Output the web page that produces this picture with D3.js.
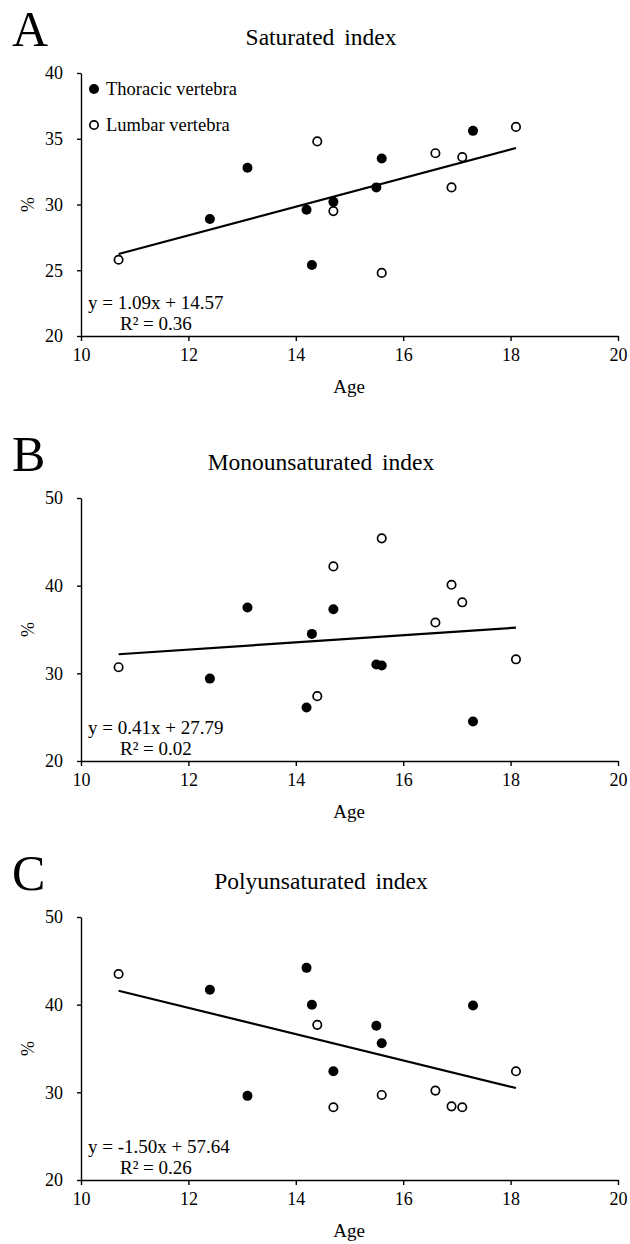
<!DOCTYPE html>
<html>
<head>
<meta charset="utf-8">
<script src="https://cdn.jsdelivr.net/npm/d3@7"></script>
<style>
  body { margin: 0; background: #fff; }
  svg text { font-family: "Liberation Serif", "Times New Roman", serif; fill: #000; }
</style>
</head>
<body>
<svg id="chart"></svg>
<script>
// ages of the two vertebra groups
const thoracicAge = [12.4, 13.1, 14.2, 14.3, 14.7, 15.5, 15.6, 17.3];
const lumbarAge = [10.7, 14.4, 14.7, 15.6, 16.6, 16.9, 17.1, 18.1];

// index values (%)
const satThoracic = [28.9, 32.8, 29.6, 25.4, 30.2, 31.3, 33.5, 35.6];
const satLumbar = [25.8, 34.8, 29.5, 24.8, 33.9, 31.3, 33.6, 35.9];
const monoThoracic = [29.4, 37.5, 26.1, 34.5, 37.3, 31.0, 30.9, 24.5];
const monoLumbar = [30.7, 27.4, 42.2, 45.4, 35.8, 40.1, 38.1, 31.6];
const polyThoracic = [41.7, 29.6, 44.2, 40.0, 32.4, 37.6, 35.6, 39.9];
const polyLumbar = [43.5, 37.7, 28.3, 29.7, 30.2, 28.4, 28.3, 32.4];

// regression lines
const slopes = [1.09, 0.41, -1.50];
const intercepts = [14.57, 27.79, 57.64];
const r2Labels = ["0.36", "0.02", "0.26"];

const panelLetters = ["A", "B", "C"];
const panelTitles = ["Saturated index", "Monounsaturated index", "Polyunsaturated index"];
const yDomains = [[20, 40], [20, 50], [20, 50]];
const yTicks = [[20, 25, 30, 35, 40], [20, 30, 40, 50], [20, 30, 40, 50]];
const xTicks = [10, 12, 14, 16, 18, 20];
const legendLabels = ["Thoracic vertebra", "Lumbar vertebra"];

const width = 630, height = 1244;
const svg = d3.select("#chart").attr("width", width).attr("height", height);

// vertical placement of each plot area (axis top / bottom)
const panelBox = [
    {top: 73, bottom: 336},
    {top: 498, bottom: 761},
    {top: 917, bottom: 1180}
];
const xLeft = 81, xRight = 618;

const series = [
    [satThoracic, satLumbar],
    [monoThoracic, monoLumbar],
    [polyThoracic, polyLumbar]
];

function drawPanel(i) {
    const box = panelBox[i];
    const g = svg.append("g");

    const xScale = d3.scaleLinear().domain([10, 20]).range([xLeft, xRight]);
    const yScale = d3.scaleLinear().domain(yDomains[i]).range([box.bottom, box.top]);

    // axes
    const yAxis = g.append("g")
        .attr("transform", `translate(${xLeft},0)`)
        .call(d3.axisLeft(yScale).tickValues(yTicks[i]).tickSize(4).tickSizeOuter(0).tickPadding(14));
    const xAxis = g.append("g")
        .attr("transform", `translate(0,${box.bottom})`)
        .call(d3.axisBottom(xScale).tickValues(xTicks).tickSize(5).tickSizeOuter(0).tickPadding(7.5));
    [yAxis, xAxis].forEach(ax => {
        ax.selectAll("text").attr("font-size", 18).attr("font-family", null);
        ax.select(".domain").attr("stroke", "#000").attr("stroke-width", 1.4);
        ax.selectAll(".tick line").attr("stroke", "#000").attr("stroke-width", 1.4);
    });

    // panel letter + title
    g.append("text")
        .attr("x", 12).attr("y", box.top - 27)
        .attr("font-size", 50)
        .text(panelLetters[i]);
    g.append("text")
        .attr("x", 321).attr("y", box.top - 28)
        .attr("text-anchor", "middle")
        .attr("font-size", 23.5)
        .style("word-spacing", "4px")
        .text(panelTitles[i]);

    // axis titles
    g.append("text")
        .attr("transform", `translate(34,${(box.top + box.bottom) / 2}) rotate(-90)`)
        .attr("text-anchor", "middle")
        .attr("font-size", 18)
        .text("%");
    g.append("text")
        .attr("x", 349).attr("y", box.bottom + 57)
        .attr("text-anchor", "middle")
        .attr("font-size", 19)
        .text("Age");

    // trend line
    const x0 = d3.min(lumbarAge.concat(thoracicAge));
    const x1 = d3.max(lumbarAge.concat(thoracicAge));
    const fit = x => slopes[i] * x + intercepts[i];
    g.append("line")
        .attr("x1", xScale(x0)).attr("y1", yScale(fit(x0)))
        .attr("x2", xScale(x1)).attr("y2", yScale(fit(x1)))
        .attr("stroke", "#000")
        .attr("stroke-width", 2.2);

    // points
    const [thor, lumb] = series[i];
    g.append("g").selectAll("circle")
        .data(thoracicAge.map((a, k) => ({age: a, val: thor[k]})))
        .join("circle")
        .attr("cx", d => xScale(d.age))
        .attr("cy", d => yScale(d.val))
        .attr("r", 5)
        .attr("fill", "#000");
    g.append("g").selectAll("circle")
        .data(lumbarAge.map((a, k) => ({age: a, val: lumb[k]})))
        .join("circle")
        .attr("cx", d => xScale(d.age))
        .attr("cy", d => yScale(d.val))
        .attr("r", 4.2)
        .attr("fill", "#fff")
        .attr("stroke", "#000")
        .attr("stroke-width", 1.7);

    // equation
    const sign = intercepts[i] >= 0 ? "+" : "-";
    g.append("text")
        .attr("x", 88).attr("y", box.bottom - 27.5)
        .attr("font-size", 19)
        .text(`y = ${slopes[i].toFixed(2)}x ${sign} ${Math.abs(intercepts[i]).toFixed(2)}`);
    g.append("text")
        .attr("x", 120).attr("y", box.bottom - 6.5)
        .attr("font-size", 19)
        .text(`R² = ${r2Labels[i]}`);

    // legend only in first panel
    if (i === 0) {
        const leg = g.append("g");
        legendLabels.forEach((lab, k) => {
            const cy = 89 + k * 36;
            leg.append("circle")
                .attr("cx", 94).attr("cy", cy)
                .attr("r", k === 0 ? 5 : 4.2)
                .attr("fill", k === 0 ? "#000" : "#fff")
                .attr("stroke", "#000")
                .attr("stroke-width", k === 0 ? 0 : 1.7);
            leg.append("text")
                .attr("x", 106).attr("y", cy + 6)
                .attr("font-size", 18.5)
                .text(lab);
        });
    }
}

[0, 1, 2].forEach(drawPanel);
</script>
</body>
</html>
